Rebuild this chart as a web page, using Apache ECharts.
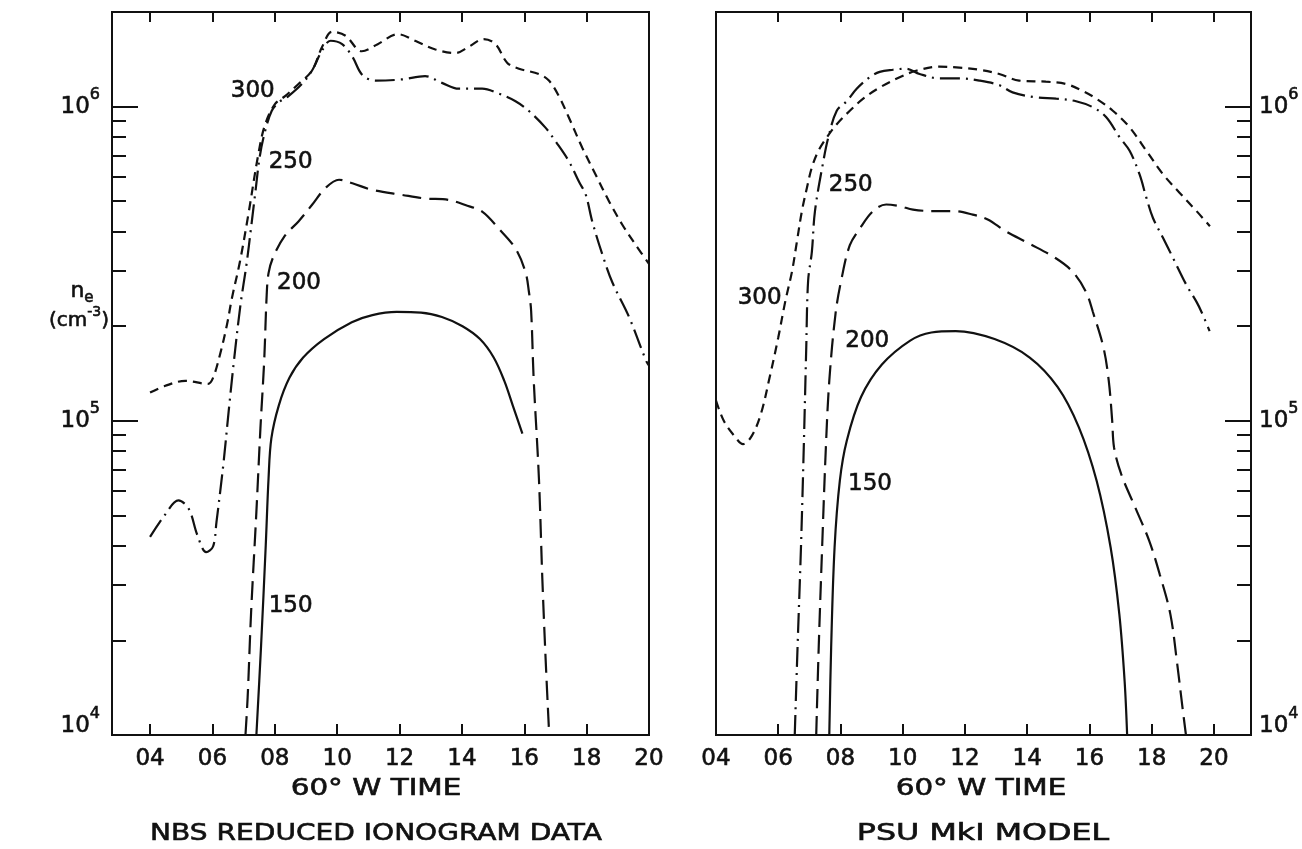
<!DOCTYPE html>
<html><head><meta charset="utf-8">
<script src="https://cdn.jsdelivr.net/npm/echarts@6/dist/echarts.min.js"></script>
<style>html,body{margin:0;padding:0;background:#fff}#c{width:1302px;height:849px}</style>
</head><body><div id="c"></div>
<script>
// ---- tick labels / tick marks ----
const hourLabels = [4, 6, 8, 10, 12, 14, 16, 18, 20];
const nbsHourTicks = [4, 6, 8, 10, 12, 14, 16, 18];
const psuHourTicks = [6, 8, 10, 12, 14, 16, 18, 20];
const decadeTicks = [1e4, 1e5, 1e6];
const minorTicks = [2e4, 3e4, 4e4, 5e4, 6e4, 7e4, 8e4, 9e4, 2e5, 3e5, 4e5, 5e5, 6e5, 7e5, 8e5, 9e5];

// ---- NBS reduced ionogram data: [60W hour, n_e cm^-3] ----
const nbs150 = [[7.41,1.0e4],[7.56,1.92e4],[7.71,4.01e4],[7.8,6.55e4],[7.89,8.79e4],[8.13,1.12e5],[8.47,1.37e5],[8.91,1.59e5],[9.58,1.82e5],[10.47,2.06e5],[11.13,2.17e5],[11.91,2.22e5],[12.69,2.21e5],[13.36,2.14e5],[14.02,2.0e5],[14.58,1.82e5],[15.02,1.59e5],[15.36,1.34e5],[15.63,1.12e5],[15.94,9.1e4]];
const nbs200 = [[7.06,1.0e4],[7.13,1.32e4],[7.24,2.45e4],[7.41,5.13e4],[7.54,9.48e4],[7.66,1.55e5],[7.74,2.51e5],[7.8,2.95e5],[7.95,3.32e5],[8.33,3.89e5],[8.76,4.31e5],[9.19,4.86e5],[9.62,5.5e5],[10.06,5.85e5],[10.49,5.7e5],[11.13,5.43e5],[12.06,5.24e5],[12.82,5.1e5],[13.56,5.05e5],[14.11,4.86e5],[14.65,4.63e5],[15.18,4.09e5],[15.72,3.53e5],[16.04,2.97e5],[16.15,2.57e5],[16.22,2.24e5],[16.3,1.37e5],[16.47,6.55e4],[16.58,3.13e4],[16.69,1.7e4],[16.8,1.0e4]];
const nbs250 = [[4.0,4.27e4],[4.47,5.01e4],[4.91,5.58e4],[5.24,5.25e4],[5.52,4.32e4],[5.8,3.82e4],[6.02,3.98e4],[6.13,4.76e4],[6.36,7.41e4],[6.52,1.07e5],[6.69,1.55e5],[6.9,2.34e5],[7.09,3.13e5],[7.25,4.2e5],[7.38,5.37e5],[7.52,6.95e5],[7.69,8.36e5],[7.9,9.68e5],[8.12,1.03e6],[8.44,1.08e6],[8.87,1.18e6],[9.19,1.3e6],[9.52,1.51e6],[9.79,1.62e6],[10.16,1.58e6],[10.49,1.44e6],[10.81,1.26e6],[11.24,1.21e6],[12.06,1.22e6],[12.82,1.25e6],[13.36,1.19e6],[13.9,1.14e6],[14.65,1.14e6],[15.18,1.1e6],[15.72,1.04e6],[16.15,9.68e5],[16.68,8.57e5],[17.0,7.76e5],[17.43,6.7e5],[17.76,5.75e5],[17.97,5.25e5],[18.18,4.31e5],[18.51,3.37e5],[18.83,2.75e5],[19.36,2.14e5],[19.91,1.55e5],[20.0,1.5e5]];
const nbs300 = [[4.0,1.23e5],[4.47,1.29e5],[5.13,1.34e5],[5.86,1.31e5],[6.02,1.37e5],[6.24,1.62e5],[6.47,2.03e5],[6.63,2.47e5],[6.88,3.2e5],[7.15,4.52e5],[7.47,7.03e5],[7.69,8.77e5],[8.01,1.02e6],[8.33,1.08e6],[8.76,1.18e6],[9.19,1.3e6],[9.52,1.55e6],[9.84,1.73e6],[10.27,1.68e6],[10.79,1.5e6],[11.3,1.58e6],[11.95,1.7e6],[12.5,1.62e6],[13.15,1.52e6],[13.79,1.48e6],[14.22,1.55e6],[14.7,1.64e6],[15.08,1.58e6],[15.45,1.38e6],[15.83,1.32e6],[16.47,1.27e6],[16.79,1.21e6],[17.11,1.08e6],[17.43,9.23e5],[17.86,7.4e5],[18.29,6.07e5],[18.72,4.99e5],[19.15,4.2e5],[19.58,3.62e5],[20.0,3.16e5]];

// ---- PSU MkI model: [60W hour, n_e cm^-3] ----
const psu150 = [[7.64,1.0e4],[7.7,1.9e4],[7.81,3.95e4],[7.98,6.46e4],[8.2,8.63e4],[8.66,1.19e5],[9.33,1.51e5],[10.24,1.8e5],[10.92,1.91e5],[11.7,1.93e5],[12.95,1.82e5],[14.08,1.59e5],[14.98,1.28e5],[15.66,9.53e4],[16.23,6.44e4],[16.68,3.95e4],[16.96,2.42e4],[17.13,1.48e4],[17.21,1.0e4]];
const psu200 = [[7.22,1.0e4],[7.3,1.9e4],[7.41,3.95e4],[7.53,8.22e4],[7.64,1.34e5],[7.84,2.19e5],[8.03,2.82e5],[8.3,3.62e5],[8.62,4.09e5],[9.05,4.65e5],[9.47,4.88e5],[9.9,4.82e5],[10.33,4.7e5],[10.97,4.65e5],[11.61,4.65e5],[12.25,4.53e5],[12.73,4.37e5],[13.31,4.01e5],[14.05,3.67e5],[14.92,3.29e5],[15.46,2.98e5],[15.89,2.57e5],[16.11,2.22e5],[16.45,1.71e5],[16.62,1.34e5],[16.73,1.0e5],[16.79,8.22e4],[17.02,6.76e4],[17.47,5.3e4],[17.92,4.15e4],[18.26,3.24e4],[18.6,2.42e4],[18.82,1.68e4],[18.99,1.22e4],[19.1,1.0e4]];
const psu250 = [[6.53,1.0e4],[6.62,1.9e4],[6.73,3.95e4],[6.82,8.22e4],[6.9,1.71e5],[6.96,2.79e5],[7.08,3.45e5],[7.18,4.65e5],[7.45,6.71e5],[7.61,7.98e5],[7.88,9.7e5],[8.2,1.04e6],[8.52,1.14e6],[8.94,1.24e6],[9.26,1.29e6],[9.69,1.31e6],[10.11,1.32e6],[10.54,1.27e6],[11.18,1.23e6],[11.82,1.23e6],[12.46,1.21e6],[13.1,1.17e6],[13.53,1.11e6],[14.28,1.07e6],[14.93,1.06e6],[15.57,1.04e6],[16.11,9.95e5],[16.54,9.25e5],[16.97,7.98e5],[17.29,7.23e5],[17.61,6.08e5],[17.83,5.12e5],[18.04,4.42e5],[18.37,3.81e5],[18.69,3.29e5],[19.12,2.7e5],[19.44,2.39e5],[19.6,2.22e5],[19.86,1.93e5]];
const psu300 = [[4.0,1.16e5],[4.25,1.0e5],[4.59,8.95e4],[4.87,8.43e4],[5.15,8.95e4],[5.44,1.05e5],[5.72,1.37e5],[6.0,1.84e5],[6.23,2.41e5],[6.44,2.98e5],[6.6,3.72e5],[6.76,4.65e5],[6.92,5.51e5],[7.08,6.4e5],[7.29,7.23e5],[7.56,7.98e5],[7.88,8.79e5],[8.3,9.7e5],[8.73,1.06e6],[9.26,1.15e6],[9.9,1.24e6],[10.43,1.3e6],[11.18,1.34e6],[11.82,1.33e6],[12.46,1.31e6],[13.1,1.27e6],[13.74,1.21e6],[14.6,1.2e6],[15.25,1.18e6],[15.79,1.12e6],[16.22,1.06e6],[16.75,9.7e5],[17.29,8.59e5],[17.83,7.23e5],[18.37,6.08e5],[18.9,5.31e5],[19.44,4.65e5],[19.87,4.16e5]];

// ---- curve labels (altitude, km): anchor in data coords ----
const nbsCurveLabels = { '150': [7.74, 2.57e4, 'right'], '200': [8.01, 2.75e5, 'right'], '250': [7.74, 6.67e5, 'right'], '300': [8.06, 1.12e6, 'left'] };
const psuCurveLabels = { '150': [8.18, 6.3e4, 'right'], '200': [8.09, 1.79e5, 'right'], '250': [7.56, 5.62e5, 'right'], '300': [6.17, 2.45e5, 'left'] };

const FONT = 'DejaVu Sans';
const INK = '#111';
const BOLDEN = { textBorderColor: INK, textBorderWidth: 0.6 };
const dashStyles = { '150': 'solid', '200': [19, 8], '250': [20, 6, 2, 6], '300': [9, 6] };

function pad2(v) { return (v < 10 ? '0' : '') + v; }
function powLabel(v) {
  const e = Math.round(Math.log10(v));
  return e === 4 ? '{b4|10}{s4|' + e + '}' : '{b|10}{s|' + e + '}';
}
const powRich = {
  b: Object.assign({ fontSize: 23, fontFamily: FONT, color: INK }, BOLDEN),
  s: Object.assign({ fontSize: 16, fontFamily: FONT, color: INK, padding: [0, 0, 24, 0] }, BOLDEN),
  b4: Object.assign({ fontSize: 23, fontFamily: FONT, color: INK, padding: [0, 0, 18, 0] }, BOLDEN),
  s4: Object.assign({ fontSize: 16, fontFamily: FONT, color: INK, padding: [0, 0, 42, 0] }, BOLDEN)
};

function xAxes(gi, min, max, marks) {
  const line = { show: true, lineStyle: { color: INK, width: 2 } };
  return [
    { type: 'value', gridIndex: gi, min, max, position: 'bottom', axisLine: line,
      axisTick: { show: true, inside: true, length: 11, customValues: marks, lineStyle: { color: INK, width: 2 } },
      axisLabel: Object.assign({ show: true, customValues: hourLabels, formatter: pad2, color: INK, fontSize: 23, fontFamily: FONT, margin: 13 }, BOLDEN),
      splitLine: { show: false } },
    { type: 'value', gridIndex: gi, min, max, position: 'top', axisLine: line,
      axisTick: { show: true, inside: true, length: 10, customValues: marks, lineStyle: { color: INK, width: 2 } },
      axisLabel: { show: false }, splitLine: { show: false } }
  ];
}
function yAxes(gi, pos, margin) {
  return [
    { type: 'log', logBase: 10, gridIndex: gi, min: 1e4, max: 2e6, position: pos,
      axisLine: { show: true, lineStyle: { color: INK, width: 2 } },
      axisTick: { show: true, inside: true, length: 26, customValues: decadeTicks, lineStyle: { color: INK, width: 2 } },
      axisLabel: { show: true, customValues: decadeTicks, formatter: powLabel, rich: powRich, margin },
      splitLine: { show: false }, minorTick: { show: false } },
    { type: 'log', logBase: 10, gridIndex: gi, min: 1e4, max: 2e6, position: pos,
      axisLine: { show: false },
      axisTick: { show: true, inside: true, length: 14, customValues: minorTicks, lineStyle: { color: INK, width: 2 } },
      axisLabel: { show: false }, splitLine: { show: false }, minorTick: { show: false } }
  ];
}

function curve(key, data, xi, yi, labels) {
  const lab = labels[key];
  return {
    type: 'line', name: key, data, xAxisIndex: xi, yAxisIndex: yi,
    showSymbol: false, symbol: 'none', smooth: 0.35, clip: true, silent: true,
    lineStyle: { color: INK, width: 2.2, type: dashStyles[key], cap: 'butt' },
    markPoint: {
      symbol: 'circle', symbolSize: 0, silent: true,
      data: [{ coord: [lab[0], lab[1]], value: key,
        label: Object.assign({ show: true, position: lab[2], distance: 2, formatter: key, color: INK, fontSize: 23, fontFamily: FONT }, BOLDEN) }]
    }
  };
}

function caption(text, x, y, size, sx) {
  return { type: 'text', x, y, scaleX: sx, silent: true,
    style: { text, fontSize: size, fontFamily: FONT, fill: INK, stroke: INK, lineWidth: 0.6, align: 'center', verticalAlign: 'middle' } };
}
function tok(size, pad) {
  const t = { fontSize: size, fontFamily: FONT, fill: INK, stroke: INK, lineWidth: 0.6 };
  if (pad) t.padding = pad;
  return t;
}

const chart = echarts.init(document.getElementById('c'), null, { renderer: 'canvas' });
chart.setOption({
  animation: false,
  backgroundColor: '#fff',
  grid: [
    { left: 112, top: 12, width: 537, height: 723, show: true, borderColor: INK, borderWidth: 2 },
    { left: 716, top: 12, width: 535, height: 723, show: true, borderColor: INK, borderWidth: 2 }
  ],
  xAxis: [].concat(xAxes(0, 2.78, 20, nbsHourTicks), xAxes(1, 4, 21.19, psuHourTicks)),
  yAxis: [].concat(yAxes(0, 'left', 12), yAxes(1, 'right', 8)),
  series: [
    curve('150', nbs150, 0, 0, nbsCurveLabels),
    curve('200', nbs200, 0, 0, nbsCurveLabels),
    curve('250', nbs250, 0, 0, nbsCurveLabels),
    curve('300', nbs300, 0, 0, nbsCurveLabels),
    curve('150', psu150, 2, 2, psuCurveLabels),
    curve('200', psu200, 2, 2, psuCurveLabels),
    curve('250', psu250, 2, 2, psuCurveLabels),
    curve('300', psu300, 2, 2, psuCurveLabels)
  ],
  graphic: [
    caption('60° W TIME', 376, 789, 23, 1.28),
    caption('60° W TIME', 981, 789, 23, 1.28),
    caption('NBS REDUCED IONOGRAM DATA', 376, 834, 23, 1.22),
    caption('PSU MkI MODEL', 983, 834, 23, 1.38),
    { type: 'text', x: 82, y: 291, silent: true,
      style: { text: '{n|n}{e|e}', align: 'center', verticalAlign: 'middle',
        rich: { n: tok(22), e: tok(15, [14, 0, 0, 0]) } } },
    { type: 'text', x: 79, y: 321, silent: true,
      style: { text: '{a|(cm}{s|-3}{a|)}', align: 'center', verticalAlign: 'middle',
        rich: { a: tok(20), s: tok(14, [0, 0, 18, 0]) } } }
  ]
});
</script>
</body></html>
